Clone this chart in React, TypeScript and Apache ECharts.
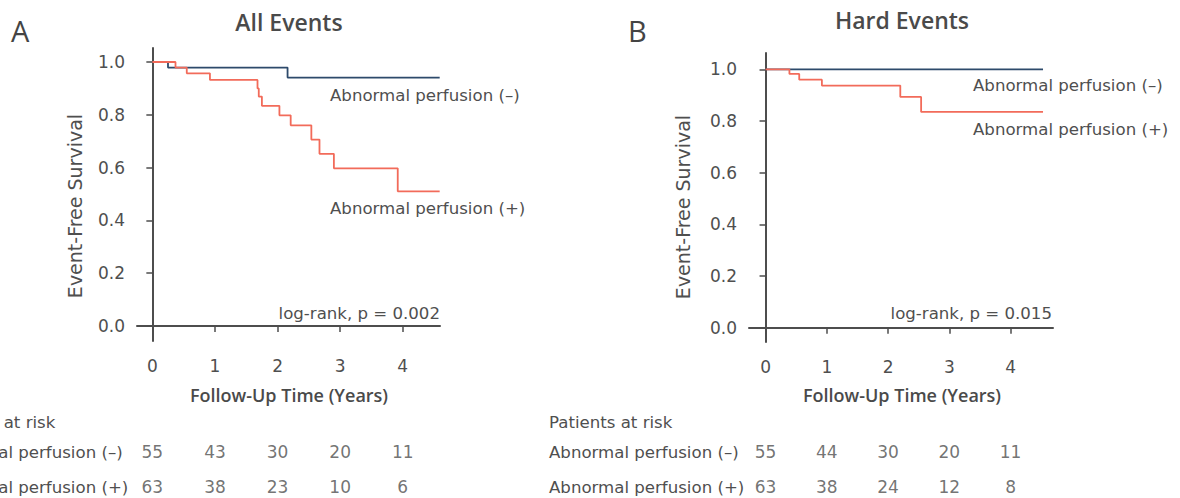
import React, { useEffect, useRef } from "react";
import * as echarts from "echarts";

// ---- data ----
const yTicks = [0, 0.2, 0.4, 0.6, 0.8, 1.0];
const xTicks = [0, 1, 2, 3, 4];

const allNeg: [number, number][] = [
  [0, 1], [0.25, 0.979], [2.16, 0.941], [4.59, 0.941],
];
const allPos: [number, number][] = [
  [0, 1], [0.37, 0.979], [0.55, 0.957], [0.92, 0.932], [1.68, 0.9], [1.7, 0.869],
  [1.75, 0.834], [2.03, 0.798], [2.21, 0.76], [2.54, 0.706], [2.67, 0.652],
  [2.9, 0.597], [3.92, 0.51], [4.59, 0.51],
];
const hardNeg: [number, number][] = [[0, 1], [4.53, 1]];
const hardPos: [number, number][] = [
  [0, 1], [0.39, 0.982], [0.55, 0.96], [0.92, 0.937], [2.2, 0.893], [2.54, 0.835], [4.53, 0.835],
];

const riskRows = ["Abnormal perfusion (\u2013)", "Abnormal perfusion (+)"];
const riskTimes = [0, 1, 2, 3, 4];
const allRiskNeg = [55, 43, 30, 20, 11];
const allRiskPos = [63, 38, 23, 10, 6];
const hardRiskNeg = [55, 44, 30, 20, 11];
const hardRiskPos = [63, 38, 24, 12, 8];

const pAll = "log-rank, p = 0.002";
const pHard = "log-rank, p = 0.015";

// ---- style ----
const RED = "#f26b5a";
const BLUE = "#2d4a6b";
const TXT = "#4f4f4f";
const AX = "#4d4d4d";
const FONT = "DejaVu Sans";
const BOLDFONT = "Open Sans";

export default function App() {
  const ref = useRef<HTMLDivElement>(null);
  useEffect(() => {
    if (!ref.current) return;
    const chart = echarts.init(ref.current, null, { renderer: "svg" });

    const mainX = (min: number, max: number, gi: number) => ({
      type: "value", gridIndex: gi, min, max,
      axisLine: { show: true, lineStyle: { color: AX, width: 2 } },
      axisTick: { show: true, customValues: xTicks, length: 6, lineStyle: { color: AX, width: 1.5 } },
      axisLabel: { show: true, customValues: xTicks, margin: 16, fontSize: 17, color: TXT, fontFamily: FONT },
      splitLine: { show: false },
    });
    const mainY = (min: number, max: number, gi: number) => ({
      type: "value", gridIndex: gi, min, max,
      axisLine: { show: true, lineStyle: { color: AX, width: 2 } },
      axisTick: { show: true, customValues: yTicks, length: 6, lineStyle: { color: AX, width: 1.5 } },
      axisLabel: {
        show: true, customValues: yTicks, margin: 12, fontSize: 17, color: TXT, fontFamily: FONT,
        formatter: (v: number) => v.toFixed(1),
      },
      splitLine: { show: false },
    });
    const riskX = (min: number, max: number, gi: number) => ({ type: "value", gridIndex: gi, min, max, show: false });
    const riskY = (gi: number) => ({ type: "category", gridIndex: gi, data: ["neg", "pos"], inverse: true, show: false });

    const riskData = (neg: number[], pos: number[]) => [
      ...riskTimes.map((t, i) => [t, "neg", neg[i]]),
      ...riskTimes.map((t, i) => [t, "pos", pos[i]]),
    ];
    const riskSeries = (data: any[], idx: number) => ({
      type: "scatter", xAxisIndex: idx, yAxisIndex: idx, data, symbolSize: 1,
      itemStyle: { color: "rgba(0,0,0,0)" },
      label: {
        show: true, position: "inside", formatter: (p: any) => String(p.value[2]),
        fontSize: 17, color: TXT, fontFamily: FONT,
      },
      silent: true,
    });
    const line = (data: any[], idx: number, color: string) => ({
      type: "line", xAxisIndex: idx, yAxisIndex: idx, data, step: "end",
      showSymbol: false, symbol: "none", lineStyle: { color, width: 1.8 }, silent: true,
    });

    const txt = (text: string, x: number, y: number, opts: any = {}) => ({
      type: "text", x, y, rotation: opts.rotation || 0, silent: true,
      style: {
        text, fill: opts.fill || TXT, fontSize: opts.fontSize || 16.6,
        fontFamily: opts.fontFamily || FONT, fontWeight: opts.fontWeight || "normal",
        align: opts.align || "left", verticalAlign: "middle",
      },
    });

    const graphics = [
      txt("A", 11, 30, { fontSize: 29, fontFamily: BOLDFONT, fontWeight: 500, fill: "#444" }),
      txt("B", 628, 30, { fontSize: 29, fontFamily: BOLDFONT, fontWeight: 500, fill: "#444" }),
      txt("All Events", 289, 22, { fontSize: 23, fontFamily: BOLDFONT, fontWeight: 600, fill: "#4a4a4a", align: "center" }),
      txt("Hard Events", 902, 20, { fontSize: 23, fontFamily: BOLDFONT, fontWeight: 600, fill: "#4a4a4a", align: "center" }),
      txt("Follow-Up Time (Years)", 289, 395, { fontSize: 18, fontFamily: BOLDFONT, fontWeight: 600, fill: "#4a4a4a", align: "center" }),
      txt("Follow-Up Time (Years)", 902, 395, { fontSize: 18, fontFamily: BOLDFONT, fontWeight: 600, fill: "#4a4a4a", align: "center" }),
      txt("Event-Free Survival", 75, 206, { fontSize: 19, align: "center", rotation: Math.PI / 2 }),
      txt("Event-Free Survival", 683, 207, { fontSize: 19, align: "center", rotation: Math.PI / 2 }),
      txt(riskRows[0], 330, 95),
      txt(riskRows[1], 330, 208),
      txt(pAll, 440, 313, { align: "right" }),
      txt(riskRows[0], 973, 85),
      txt(riskRows[1], 973, 129),
      txt(pHard, 1052, 313, { align: "right" }),
      txt("Patients at risk", -68, 422),
      txt("Patients at risk", 549, 422),
      txt(riskRows[0], -67, 452),
      txt(riskRows[1], -67, 487),
      txt(riskRows[0], 549, 452),
      txt(riskRows[1], 549, 487),
    ];

    const xa: [number, number] = [-0.245, 4.595];
    const xb: [number, number] = [-0.27, 4.693];

    chart.setOption({
      animation: false,
      backgroundColor: "#ffffff",
      grid: [
        { left: 137, top: 48, width: 303, height: 293, outerBoundsMode: "none" },
        { left: 749, top: 53, width: 304, height: 289, outerBoundsMode: "none" },
        { left: 137, top: 434, width: 303, height: 71, outerBoundsMode: "none" },
        { left: 749, top: 434, width: 304, height: 71, outerBoundsMode: "none" },
      ],
      xAxis: [
        mainX(xa[0], xa[1], 0),
        mainX(xb[0], xb[1], 1),
        riskX(xa[0], xa[1], 2),
        riskX(xb[0], xb[1], 3),
      ],
      yAxis: [
        mainY(-0.057, 1.053, 0),
        mainY(-0.055, 1.063, 1),
        riskY(2),
        riskY(3),
      ],
      series: [
        line(allNeg, 0, BLUE),
        line(allPos, 0, RED),
        line(hardNeg, 1, BLUE),
        line(hardPos, 1, RED),
        riskSeries(riskData(allRiskNeg, allRiskPos), 2),
        riskSeries(riskData(hardRiskNeg, hardRiskPos), 3),
      ],
      graphic: graphics,
    });
    return () => chart.dispose();
  }, []);
  return (
    <div
      ref={ref}
      style={{ position: "fixed", left: 0, top: 0, width: 1180, height: 498, background: "#fff" }}
    />
  );
}
